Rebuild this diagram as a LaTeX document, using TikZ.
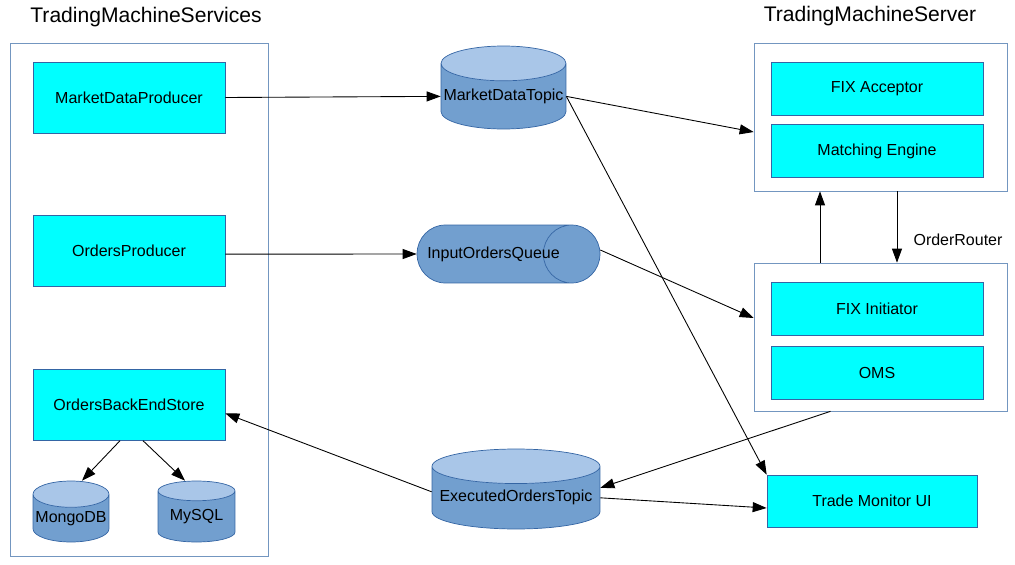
\documentclass[tikz,border=0pt]{standalone}
\usepackage{fontspec}
\setmainfont{Liberation Sans}
\usetikzlibrary{positioning,arrows.meta,shapes.geometric}
\definecolor{boxcyan}{HTML}{00FFFF}
\definecolor{cylblue}{HTML}{729FCF}
\definecolor{cyltop}{HTML}{A9C6E8}
\definecolor{cylline}{HTML}{3465A4}
\definecolor{groupline}{HTML}{7396C0}

\begin{document}
\begin{tikzpicture}[x=0.02cm, y=-0.02cm,
    comp/.style={draw=cylline, fill=boxcyan, inner sep=0pt, font=\fontsize{9.1}{11}\selectfont},
    group/.style={draw=groupline, inner sep=0pt},
    store/.style={cylinder, shape border rotate=90, anchor=shape center, draw=cylline, cylinder uses custom fill, cylinder body fill=cylblue, cylinder end fill=cyltop, inner sep=0pt, font=\fontsize{9.1}{11}\selectfont},
    title/.style={font=\fontsize{12}{14}\selectfont},
    arrow/.style={-{Triangle[length=2.8mm,width=2mm]}, line width=0.5pt},
]
\useasboundingbox (0,0) rectangle (1015,565);

% services side
\node[group, minimum width=5.16cm, minimum height=10.26cm] (svc) at (139,299.5) {};
\node[title] (svctitle) at (146,17) {TradingMachineServices};
\node[comp, minimum width=3.84cm, minimum height=1.42cm] (mdp) at (129,97.5) {MarketDataProducer};
\node[comp, minimum width=3.84cm, minimum height=1.42cm, below=1.64cm of mdp] (op) {OrdersProducer};
\node[comp, minimum width=3.84cm, minimum height=1.42cm, below=1.64cm of op] (obes) {OrdersBackEndStore};
\node[store, minimum width=1.52cm, minimum height=1.22cm, aspect=0.37] (mongo) at (71,511.5) {MongoDB};
\node[store, minimum width=1.54cm, minimum height=1.22cm, aspect=0.37] (mysql) at (196.5,511.5) {MySQL};

% middleware
\node[store, minimum width=2.5cm, minimum height=1.66cm, aspect=0.29] (mdt) at (503.5,87.5) {MarketDataTopic};
\node[store, shape border rotate=0, cylinder end fill=cylblue, minimum width=1.16cm, minimum height=3.66cm, aspect=3.8] (ioq) at (508.5,254) {\vphantom{InputOrdersQueue}};
\node[font=\fontsize{9.1}{11}\selectfont] (ioqtext) at ([xshift=-0.3cm]ioq.shape center) {InputOrdersQueue};
\node[store, minimum width=3.36cm, minimum height=1.6cm, aspect=0.226] (eot) at (516,489) {ExecutedOrdersTopic};

% server side
\node[group, minimum width=5.06cm, minimum height=2.96cm] (srv) at (880.5,117) {};
\node[title] (srvtitle) at (870,16) {TradingMachineServer};
\node[comp, minimum width=4.24cm, minimum height=1.06cm] (fixacc) at (877,88.5) {FIX Acceptor};
\node[comp, minimum width=4.24cm, minimum height=1.06cm, below=0.18cm of fixacc] (me) {Matching Engine};
\node[group, minimum width=5.06cm, minimum height=2.96cm] (rtr) at (880.5,337) {};
\node[comp, minimum width=4.24cm, minimum height=1.06cm] (fixini) at (877,309) {FIX Initiator};
\node[comp, minimum width=4.24cm, minimum height=1.06cm, below=0.2cm of fixini] (oms) {OMS};
\node[font=\fontsize{9.1}{11}\selectfont] (rtrlabel) at (958,240) {OrderRouter};
\node[comp, minimum width=4.2cm, minimum height=1.04cm] (tmui) at (872,501) {Trade Monitor UI};

\draw[arrow] (mdp.east) -- (mdt.west);
\draw[arrow] (mdt.east) -- ([yshift=-0.3cm]srv.west);
\draw[arrow] (mdt.east) -- (tmui.north west);
\draw[arrow] ([yshift=-0.06cm]op.east) -- (ioq.west);
\draw[arrow] ([yshift=0.08cm]ioq.east) -- ([yshift=0.38cm]rtr.west);
\draw[arrow] ([xshift=-1.21cm]rtr.north) -- ([xshift=-1.21cm]srv.south);
\draw[arrow] ([xshift=0.33cm]srv.south) -- ([xshift=0.33cm]rtr.north);
\draw[arrow] ([xshift=-1cm]rtr.south) -- ([yshift=0.2cm]eot.east);
\draw[arrow] ([yshift=0.12cm]eot.west) -- ([yshift=-0.17cm]obes.east);
\draw[arrow] (eot.east) -- ([yshift=-0.14cm]tmui.west);
\draw[arrow] ([xshift=-0.18cm]obes.south) -- ([xshift=0.22cm]mongo.north);
\draw[arrow] ([xshift=0.28cm]obes.south) -- ([xshift=-0.23cm]mysql.north);
\end{tikzpicture}
\end{document}
